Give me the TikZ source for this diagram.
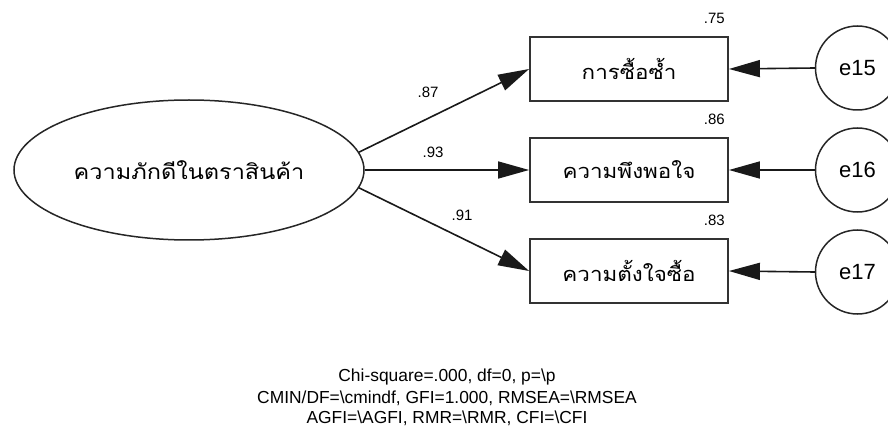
\documentclass[tikz,border=0pt]{standalone}
\usepackage{fontspec}
\setmainfont{Liberation Sans}
\newfontfamily\thaifont[Script=Thai]{Loma}
\usetikzlibrary{shapes.geometric,arrows.meta}
\newcommand{\thx}[1]{\scalebox{1.12}[1]{#1}}
\tikzset{
  conn/.style={line width=1.6pt, draw=black!90, -{Triangle[length=31pt,width=17pt]}},
  obs/.style={draw=black!80, line width=1.8pt, minimum width=198pt, minimum height=64pt, inner sep=0pt, font=\thaifont\fontsize{20}{24}\selectfont},
  err/.style={circle, draw=black!85, line width=1.5pt, minimum size=84pt, inner sep=0pt, font=\fontsize{22}{26}\selectfont},
  lat/.style={ellipse, draw=black!85, line width=1.5pt, minimum width=350pt, minimum height=140pt, inner sep=0pt, font=\thaifont\fontsize{21}{25}\selectfont},
  coef/.style={font=\fontsize{15}{18}\selectfont, inner sep=0pt},
  fit/.style={font=\fontsize{17.4}{20}\selectfont, align=center, inner sep=0pt}
}
\begin{document}
\begin{tikzpicture}[x=1pt,y=-1pt]
\useasboundingbox (0,0) rectangle (888,446);
\clip (0,0) rectangle (888,446);
\node[lat] (L) at (189,170) {\thx{ความภักดีในตราสินค้า}};
\node[obs] (b1) at (629,69) {\thx{การซื้อซ้ำ}};
\node[obs] (b2) at (629,170) {\thx{ความพึงพอใจ}};
\node[obs] (b3) at (629,271) {\thx{ความตั้งใจซื้อ}};
\node[err] (e15) at (857.5,68) {e15};
\node[err] (e16) at (857.5,170) {e16};
\node[err] (e17) at (857.5,272) {e17};
\draw[conn] (L.6.5) -- (b1.west);
\draw[conn] (L.east) -- (b2.west);
\draw[conn] (L.-6.5) -- (b3.west);
\draw[conn] (e15.west) -- (b1.east);
\draw[conn] (e16.west) -- (b2.east);
\draw[conn] (e17.west) -- (b3.east);
\node[coef] (c1) at (428,92) {.87};
\node[coef] (c2) at (433,152) {.93};
\node[coef] (c3) at (462,215) {.91};
\node[coef, anchor=east] (r1) at (725,18) {.75};
\node[coef, anchor=east] (r2) at (725,119) {.86};
\node[coef, anchor=east] (r3) at (725,220) {.83};
\node[fit] (t1) at (447,377) {Chi-square=.000, df=0, p=\textbackslash p};
\node[fit] (t2) at (447,398) {CMIN/DF=\textbackslash cmindf, GFI=1.000, RMSEA=\textbackslash RMSEA};
\node[fit] (t3) at (447,418) {AGFI=\textbackslash AGFI, RMR=\textbackslash RMR, CFI=\textbackslash CFI};
\end{tikzpicture}
\end{document}
